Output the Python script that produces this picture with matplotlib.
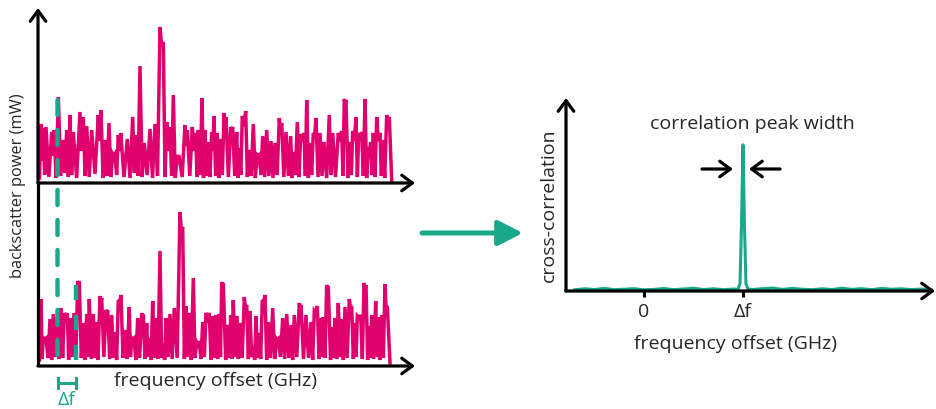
import matplotlib
matplotlib.use("Agg")
import matplotlib.pyplot as plt
from matplotlib.patches import ConnectionPatch, FancyArrowPatch

plt.rcParams['font.family'] = ['Open Sans', 'DejaVu Sans']

MAGENTA = '#E0006E'
GREEN = '#1AA88A'
INK = '#262626'

# ---- backscatter spectrum, reference measurement (peaks and the dips between them)
top_peak_f = [3.0, 5.3, 8.0, 13.7, 16.0, 20.3, 25.3, 28.7, 32.0, 35.3,
              42.0, 45.3, 48.7, 53.7, 60.3, 63.0, 67.0, 71.0, 74.7, 77.0,
              80.3, 82.7, 89.3, 94.7, 98.0, 102.0, 106.3, 112.0, 117.0, 122.0,
              125.3, 128.7, 132.0, 135.3, 139.3, 141.3, 147.0, 149.3, 154.3, 157.7,
              160.3, 164.0, 167.0, 170.3, 173.7, 176.0, 179.3, 182.7, 186.0, 188.0,
              192.7, 194.7, 198.7, 201.3, 204.3, 207.7, 211.0, 215.3, 219.3, 221.3,
              224.7, 228.7, 233.0, 237.0, 241.3, 243.7, 248.0, 252.7, 255.3, 259.3,
              262.7, 266.0, 268.7, 272.0, 275.3, 278.0, 282.0, 286.0, 291.3, 294.7,
              300.3, 303.7, 306.3, 308.0, 312.0, 314.7, 318.0, 320.7, 323.7, 327.0,
              330.3, 332.7, 335.3, 338.7, 342.0, 344.7, 348.7, 351.3]
top_peak_p = [57, 53, 54, 49, 51, 84, 41, 51, 66, 49,
              69, 64, 55, 51, 66, 71, 41, 58, 27, 27,
              46, 48, 42, 64, 46, 115, 38, 52, 57, 154,
              139, 59, 54, 86, 26, 23, 56, 51, 54, 48,
              51, 83, 51, 39, 49, 65, 48, 42, 68, 64,
              54, 54, 49, 33, 65, 70, 31, 57, 26, 26,
              45, 51, 40, 38, 63, 58, 49, 45, 29, 59,
              47, 48, 81, 38, 48, 63, 48, 39, 66, 48,
              48, 50, 82, 81, 39, 50, 64, 48, 49, 82,
              33, 39, 48, 64, 48, 41, 66, 64]
top_dip_p = [20, 6, 4, 25, 3, 5, 8, 4, 6, 3,
             30, 5, 4, 7, 40, 3, 5, 4, 25, 6,
             30, 4, 3, 8, 5, 4, 6, 3, 5, 135,
             4, 30, 5, 3, 22, 4, 35, 5, 30, 4,
             6, 3, 5, 4, 30, 5, 3, 6, 55, 4,
             50, 5, 3, 6, 55, 4, 5, 3, 25, 6,
             4, 5, 3, 6, 50, 4, 5, 3, 6, 4,
             40, 5, 3, 6, 45, 4, 5, 3, 6, 4,
             40, 5, 78, 3, 6, 40, 4, 42, 5, 3,
             30, 6, 4, 40, 5, 3, 55]

# ---- backscatter spectrum, shifted measurement
bot_peak_f = [3.0, 5.3, 8.0, 12.0, 15.3, 19.3, 23.0, 26.3, 29.3, 32.0,
              36.0, 39.7, 41.3, 45.3, 48.7, 51.3, 55.3, 58.0, 62.0, 63.7,
              68.0, 69.7, 73.7, 77.0, 80.3, 83.0, 87.0, 91.3, 93.7, 96.0,
              99.7, 103.7, 105.3, 108.7, 111.3, 114.7, 118.0, 122.0, 125.3, 128.0,
              132.0, 136.3, 142.0, 144.7, 148.0, 151.3, 155.3, 158.7, 161.3, 164.7,
              168.0, 171.3, 174.7, 178.0, 181.3, 183.7, 185.3, 190.0, 192.7, 195.3,
              198.7, 202.0, 206.3, 208.7, 212.0, 215.3, 218.0, 221.0, 224.3, 227.0,
              230.3, 234.7, 238.7, 240.3, 244.7, 248.7, 253.0, 256.3, 261.3, 263.0,
              268.0, 273.0, 276.3, 279.3, 282.7, 285.3, 288.7, 290.3, 294.7, 297.0,
              300.3, 303.7, 307.0, 311.3, 313.7, 317.0, 319.3, 322.7, 326.0, 328.0,
              331.3, 333.7, 337.7, 340.3, 343.7, 347.0, 349.3]
bot_peak_p = [64, 25, 25, 44, 49, 46, 55, 50, 50, 45,
              50, 82, 82, 40, 49, 64, 49, 41, 67, 65,
              53, 53, 48, 31, 63, 68, 33, 56, 25, 25,
              45, 50, 49, 40, 25, 62, 45, 112, 19, 45,
              49, 55, 151, 136, 57, 50, 85, 21, 20, 41,
              50, 50, 47, 48, 49, 81, 80, 38, 48, 63,
              47, 40, 66, 58, 52, 16, 47, 30, 63, 68,
              41, 55, 24, 24, 45, 49, 38, 48, 60, 58,
              48, 41, 52, 57, 45, 46, 78, 77, 36, 45,
              60, 44, 56, 64, 57, 40, 47, 48, 80, 78,
              37, 48, 62, 46, 48, 79, 57]
bot_dip_p = [4, 24, 5, 3, 6, 4, 5, 45, 3, 6,
             4, 78, 5, 3, 6, 4, 5, 3, 60, 6,
             50, 4, 5, 3, 60, 5, 4, 6, 24, 3,
             5, 45, 4, 6, 3, 5, 4, 5, 3, 6,
             4, 5, 132, 4, 6, 3, 5, 19, 4, 6,
             45, 3, 5, 4, 6, 76, 3, 5, 4, 6,
             4, 5, 55, 4, 6, 3, 5, 4, 60, 3,
             5, 4, 23, 6, 4, 5, 3, 6, 55, 4,
             5, 3, 50, 4, 6, 5, 74, 3, 5, 4,
             6, 3, 5, 55, 4, 6, 45, 4, 74, 3,
             5, 4, 6, 3, 5, 52]

trace_start = (1.5, 3)
top_trace_end = 353.7
bot_trace_end = 352.0

# frequency shift between the two measurements
shift_lo, shift_hi = 19.5, 38.0

# ---- cross-correlation versus frequency lag (in units of the shift)
lag = [-0.7, -0.6, -0.5, -0.4, -0.3, -0.2, -0.1, 0.0, 0.1, 0.2, 0.3, 0.4, 0.5,
       0.6, 0.7, 0.8, 0.9, 0.95, 0.97, 0.985, 1.0, 1.015, 1.03, 1.05,
       1.1, 1.2, 1.3, 1.4, 1.5, 1.6, 1.7, 1.8, 1.9, 2.0, 2.1, 2.2, 2.3, 2.4,
       2.5, 2.6, 2.7, 2.8, 2.9]
xcorr = [0.008, 0.015, 0.010, 0.018, 0.009, 0.012, 0.016, 0.008, 0.011, 0.017,
         0.009, 0.014, 0.019, 0.010, 0.015, 0.009, 0.013, 0.012, 0.05, 0.45,
         1.0, 0.45, 0.05, 0.014, 0.010, 0.016, 0.020, 0.011, 0.018, 0.012,
         0.009, 0.015, 0.010, 0.019, 0.011, 0.016, 0.009, 0.018, 0.012, 0.015,
         0.010, 0.013, 0.008]
xcorr_ticks = [0, 1]
xcorr_ticklabels = ['0', 'Δf']


def zigzag(peak_f, peak_p, dip_p, end_f):
    xs, ys = [trace_start[0]], [trace_start[1]]
    for i, (f, p) in enumerate(zip(peak_f, peak_p)):
        xs.append(f)
        ys.append(p)
        if i < len(dip_p):
            xs.append((f + peak_f[i + 1]) / 2)
            ys.append(dip_p[i])
    xs.append(end_f)
    ys.append(0)
    return xs, ys


W, H = 936, 409
fig = plt.figure(figsize=(W / 100, H / 100), dpi=100)


def px_axes(x0, y_top, x1, y_bot):
    return fig.add_axes([x0 / W, 1 - y_bot / H, (x1 - x0) / W, (y_bot - y_top) / H])


AX_LW = 2.3
HEAD = '->,head_length=0.38,head_width=0.28'


def axis_arrow(ax, start, end):
    ax.annotate('', xy=end, xytext=start, xycoords='axes fraction',
                textcoords='axes fraction', annotation_clip=False,
                arrowprops=dict(arrowstyle=HEAD, lw=AX_LW, color='black',
                                shrinkA=0, shrinkB=0, mutation_scale=20))


def bare(ax):
    for s in ax.spines.values():
        s.set_visible(False)
    ax.set_xticks([])
    ax.set_yticks([])
    ax.patch.set_alpha(0)


ax_top = px_axes(38, 8, 415, 183)
ax_bot = px_axes(38, 183, 415, 366)
for ax in (ax_top, ax_bot):
    bare(ax)
    ax.set_xlim(0, 377)
ax_top.set_ylim(-2, 173)
ax_bot.set_ylim(-3, 180)

tx, ty = zigzag(top_peak_f, top_peak_p, top_dip_p, top_trace_end)
bx, by = zigzag(bot_peak_f, bot_peak_p, bot_dip_p, bot_trace_end)
ax_top.plot(tx, ty, color=MAGENTA, lw=2.5, solid_joinstyle='miter', zorder=2)
ax_bot.plot(bx, by, color=MAGENTA, lw=2.5, solid_joinstyle='miter', zorder=2)

axis_arrow(ax_top, (0, 0), (1, 0))
axis_arrow(ax_top, (0, 0), (0, 1))
axis_arrow(ax_bot, (0, 0), (1, 0))
ax_bot.plot([0, 0], [0, 1], transform=ax_bot.transAxes, color='black',
            lw=AX_LW, clip_on=False, solid_capstyle='butt')

# dashed markers of the frequency shift
DASH_LW = 3.2
dash = (0, (10.8 / DASH_LW, 10.8 / DASH_LW))
con = ConnectionPatch(xyA=(shift_lo, 81), coordsA=ax_top.transData,
                      xyB=(shift_lo, 1), coordsB=ax_bot.transData,
                      color=GREEN, lw=DASH_LW, linestyle=dash, zorder=5)
fig.add_artist(con)
ax_bot.plot([shift_hi, shift_hi], [78, 1], color=GREEN, lw=DASH_LW,
            linestyle=dash, zorder=5)

# bracket below the axis
ax_bot.plot([shift_lo, shift_hi], [-20, -20], color=GREEN, lw=2.2, clip_on=False)
for f in (shift_lo, shift_hi):
    ax_bot.plot([f, f], [-15, -25], color=GREEN, lw=2.2, clip_on=False)
ax_bot.text((shift_lo + shift_hi) / 2, -37, 'Δf', color=GREEN, fontsize=14,
            ha='center', va='center', clip_on=False)

FS = 14
fig.text(18 / W, 1 - 186 / H, 'backscatter power (mW)', rotation=90,
         ha='center', va='center', fontsize=11.8, color=INK)
fig.text(215 / W, 1 - 381 / H, 'frequency offset (GHz)', ha='center',
         va='center', fontsize=FS, color=INK)

# transition arrow
fig.patches.append(FancyArrowPatch(
    (422 / W, 1 - 233 / H), (523 / W, 1 - 233 / H), transform=fig.transFigure,
    arrowstyle='-|>,head_length=0.75,head_width=0.38', mutation_scale=20,
    lw=3.6, color=GREEN, shrinkA=0, shrinkB=0))

# ---- cross-correlation panel
ax_r = px_axes(566, 98, 935, 291)
for s in ax_r.spines.values():
    s.set_visible(False)
ax_r.patch.set_alpha(0)
ax_r.set_xlim(-0.788, 2.94)
ax_r.set_ylim(0, 1.32)
ax_r.plot(lag, xcorr, color=GREEN, lw=2.2, zorder=3)
ax_r.set_yticks([])
ax_r.set_xticks(xcorr_ticks)
ax_r.set_xticklabels(xcorr_ticklabels, fontsize=FS, color=INK)
ax_r.tick_params(axis='x', direction='out', length=4.5, width=2.2, pad=4,
                 color='black')
axis_arrow(ax_r, (0, 0), (1, 0))
axis_arrow(ax_r, (0, 0), (0, 1))

fig.text(549 / W, 1 - 205 / H, 'cross-correlation', rotation=90,
         ha='center', va='center', fontsize=FS, color=INK)
fig.text(735 / W, 1 - 344 / H, 'frequency offset (GHz)', ha='center',
         va='center', fontsize=FS, color=INK)
fig.text(752 / W, 1 - 124 / H, 'correlation peak width', ha='center',
         va='center', fontsize=FS, color=INK)

for x0, x1 in ((702, 733), (780, 749)):
    fig.patches.append(FancyArrowPatch(
        (x0 / W, 1 - 169 / H), (x1 / W, 1 - 169 / H), transform=fig.transFigure,
        arrowstyle=HEAD, mutation_scale=20, lw=2.3, color='black',
        shrinkA=0, shrinkB=0))

fig.savefig('out.png', dpi=100)
